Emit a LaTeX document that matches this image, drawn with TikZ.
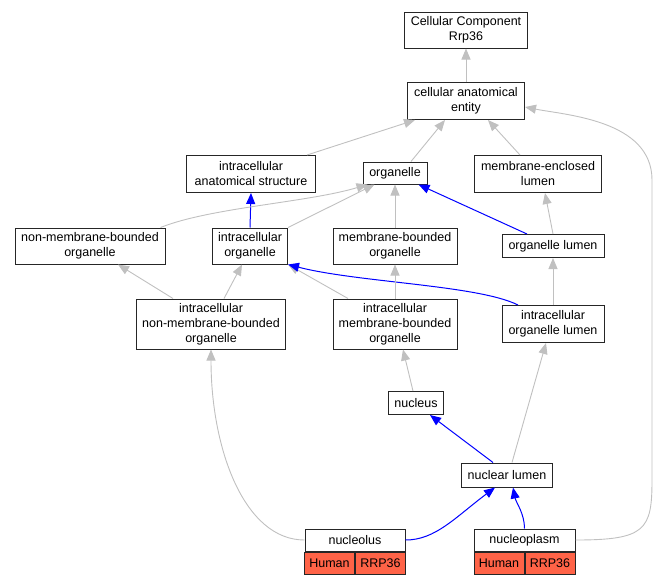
\documentclass[tikz,border=0pt]{standalone}
\usepackage{fontspec}
\setmainfont{Liberation Sans}
\usetikzlibrary{arrows.meta}

\definecolor{isagray}{HTML}{C0C0C0}
\definecolor{annotred}{HTML}{FF6347}

\def\annotcells#1#2{ % #1 Name, #2 Parent node
    \node[cell, anchor=north east] (#1human) at (#2.south) {Human};
    \node[cell, anchor=north west] (#1gene) at (#2.south) {RRP36};
}

\begin{document}
\begin{tikzpicture}[x=1pt, y=-1pt,
        term/.style={draw=black!85, line width=1pt, fill=white, align=center, inner sep=0pt,
            font=\fontsize{12.5}{15}\selectfont},
        cell/.style={term, fill=annotred, minimum width=50, minimum height=22},
        isa/.style={-{Triangle[length=11pt,width=9pt]}, draw=isagray, line width=0.9pt},
        partof/.style={-{Triangle[length=11pt,width=9pt]}, draw=blue, line width=1pt}]
        \useasboundingbox (0,0) rectangle (658,584);

        \node[term, minimum width=123, minimum height=36] (ccr) at (466,30) {Cellular Component\\Rrp36};
        \node[term, minimum width=117, minimum height=37] (cae) at (466,101) {cellular anatomical\\entity};
        \node[term, minimum width=129, minimum height=37] (ias) at (251,174) {intracellular\\anatomical structure};
        \node[term, minimum width=64, minimum height=22] (org) at (395,173) {organelle};
        \node[term, minimum width=127, minimum height=37] (mel) at (538,174) {membrane-enclosed\\lumen};
        \node[term, minimum width=150, minimum height=36] (nmbo) at (90,246) {non-membrane-bounded\\organelle};
        \node[term, minimum width=75, minimum height=36] (io) at (250,246) {intracellular\\organelle};
        \node[term, minimum width=124, minimum height=36] (mbo) at (395,246) {membrane-bounded\\organelle};
        \node[term, minimum width=102, minimum height=23] (ol) at (553,246) {organelle lumen};
        \node[term, minimum width=149, minimum height=50] (inmbo) at (211,324) {intracellular\\non-membrane-bounded\\organelle};
        \node[term, minimum width=124, minimum height=50] (imbo) at (395,324) {intracellular\\membrane-bounded\\organelle};
        \node[term, minimum width=102, minimum height=37] (iol) at (553,324) {intracellular\\organelle lumen};
        \node[term, minimum width=55, minimum height=23] (nuc) at (416,403) {nucleus};
        \node[term, minimum width=91, minimum height=24] (nl) at (507,475) {nuclear lumen};
        \node[term, minimum width=100, minimum height=22] (nucleolus) at (355,540) {nucleolus};
        \node[term, minimum width=101, minimum height=22] (np) at (524.5,540) {nucleoplasm};
        \annotcells{nucleolus}{nucleolus}
        \annotcells{np}{np}

        % --------------------------------------------------

        \draw[isa] (cae.north) -- (ccr.south);
        \draw[isa] ([xshift=-9]ias.north east) -- ([xshift=8]cae.south west);
        \draw[isa] ([xshift=16]org.north) -- ([xshift=-21]cae.south);
        \draw[isa] ([xshift=-18]mel.north) -- ([xshift=22]cae.south);
        \draw[isa] (np.east) .. controls +(70,0) and +(0,50) .. (652,480) -- (652,180)
            .. controls +(0,-60) and +(40,8) .. ([yshift=-6]cae.east); %nucleoplasm
        \draw[partof] (io.north) -- (ias.south);
        \draw[isa] ([xshift=-5]nmbo.north east) .. controls +(50,-20) and +(-60,18) .. ([xshift=5]org.south west);
        \draw[isa] (io.north east) -- ([xshift=12]org.south west);
        \draw[isa] (mbo.north) -- (org.south);
        \draw[partof] ([xshift=-26]ol.north) -- ([xshift=-9]org.south east);
        \draw[isa] (ol.north) -- ([xshift=7]mel.south);

        % --------------------------------------------------

        \draw[isa] ([xshift=-38]inmbo.north) -- ([xshift=28]nmbo.south);
        \draw[isa] ([xshift=13]inmbo.north) -- ([xshift=-8]io.south);
        \draw[isa] ([xshift=-47]imbo.north) -- (io.south east);
        \draw[partof] ([xshift=-35]iol.north) .. controls +(-40,-20) and +(70,18) .. (io.south east);
        \draw[isa] (imbo.north) -- (mbo.south);
        \draw[isa] (iol.north) -- (ol.south);
        \draw[isa] ([xshift=-3]nuc.north) -- ([xshift=8]imbo.south);
        \draw[partof] ([xshift=-14]nl.north) -- ([xshift=14]nuc.south);
        \draw[isa] ([xshift=5]nl.north) -- ([xshift=-7]iol.south);

        % --------------------------------------------------

        \draw[partof] (nucleolus.east) .. controls +(30,0) and +(-40,30) .. ([xshift=-12]nl.south);
        \draw[partof] (np.north) .. controls +(0,-15) and +(3,15) .. ([xshift=6]nl.south);
        \draw[isa] (nucleolus.west) .. controls +(-60,0) and +(0,100) .. (inmbo.south);
    \end{tikzpicture}
\end{document}
